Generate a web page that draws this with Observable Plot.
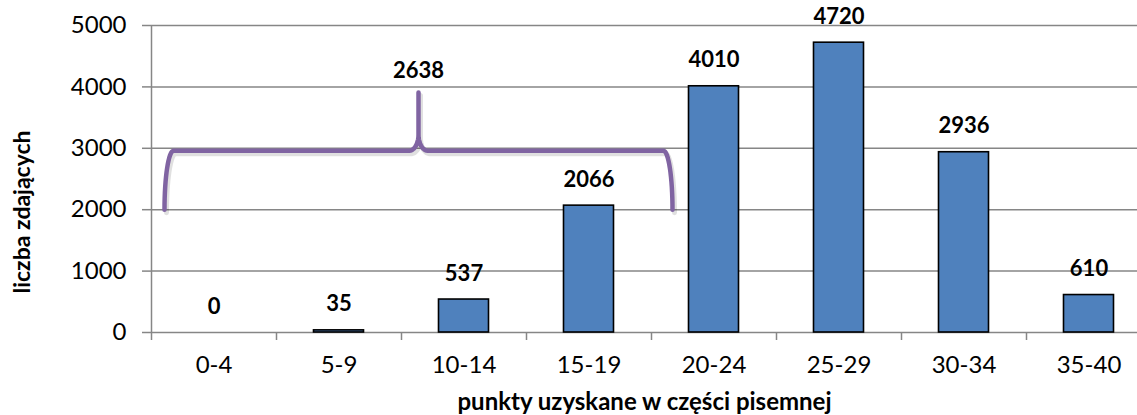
<!DOCTYPE html>
<html><head><meta charset="utf-8">
<script src="https://cdn.jsdelivr.net/npm/d3@7"></script>
<script src="https://cdn.jsdelivr.net/npm/@observablehq/plot@0.6"></script>
<style>
body{margin:0;background:#fff}
#chart svg{font-family:Lato,"Open Sans",sans-serif;display:block}
</style>
</head><body><div id="chart"></div><script>
// ---- data ----
const categories = ["0-4","5-9","10-14","15-19","20-24","25-29","30-34","35-40"];
const counts = [0, 35, 537, 2066, 4010, 4720, 2936, 610];
const yTicks = [0, 1000, 2000, 3000, 4000, 5000];
const xTitle = "punkty uzyskane w części pisemnej";
const yTitle = "liczba zdających";
// brace annotation: groups the first four bins, labelled with their sum
const braceBins = ["0-4","5-9","10-14","15-19"];
const braceLabel = [2638];
const braceBase = 2000, braceLevel = 2960, bracePeak = 3910;

// ---- build ----
const data = categories.map((c, i) => ({cat: c, i, count: counts[i]}));
const boundaries = d3.range(categories.length + 1);
const centers = categories.map((_, i) => i + 0.5);

// brace geometry in (bin index, value) units
const b0 = categories.indexOf(braceBins[0]) + 0.104;
const b1 = categories.indexOf(braceBins[braceBins.length - 1]) + 1.168;
const bm = (b0 + b1) / 2;
const cornerW = 0.072, spikeW = 0.075, spikeH = 260;
const brace = [];
const N = 16;
for (let k = 0; k <= N; k++) { const t = k / N * Math.PI / 2;
  brace.push({x: b0 + cornerW * (1 - Math.cos(t)), y: braceBase + (braceLevel - braceBase) * Math.sin(t)}); }
for (let k = 0; k <= N; k++) { const t = k / N * Math.PI / 2;
  brace.push({x: bm - spikeW + spikeW * Math.sin(t), y: braceLevel + spikeH * (1 - Math.cos(t))}); }
brace.push({x: bm, y: bracePeak});
for (let k = N; k >= 0; k--) { const t = k / N * Math.PI / 2;
  brace.push({x: bm + spikeW - spikeW * Math.sin(t), y: braceLevel + spikeH * (1 - Math.cos(t))}); }
for (let k = N; k >= 0; k--) { const t = k / N * Math.PI / 2;
  brace.push({x: b1 - cornerW * (1 - Math.cos(t)), y: braceBase + (braceLevel - braceBase) * Math.sin(t)}); }

const gray = "#868686";
const chart = Plot.plot({
  width: 1137, height: 415,
  marginLeft: 151, marginRight: 0, marginTop: 25, marginBottom: 83,
  style: {fontFamily: "Lato, 'Open Sans', sans-serif", background: "#fff", overflow: "hidden"},
  x: {type: "linear", domain: [0, categories.length], range: [151, 1151]},
  y: {domain: [0, 5000]},
  marks: [
    Plot.ruleY(yTicks, {stroke: gray, strokeWidth: 1.5}),
    Plot.ruleX([0], {stroke: gray, strokeWidth: 1.5}),
    Plot.axisY({ticks: yTicks, tickSize: 9, tickFormat: () => "", color: gray, strokeWidth: 1.5, label: null}),
    Plot.axisY({ticks: yTicks, tickSize: 0, tickPadding: 25, fontSize: 24, color: "#000", tickFormat: d => String(d), label: null}),
    Plot.axisX({ticks: boundaries, tickSize: 8, tickFormat: () => "", color: gray, strokeWidth: 1.5, label: null}),
    Plot.axisX({ticks: centers, tickSize: 0, tickPadding: 23, fontSize: 24, color: "#000",
      tickFormat: v => categories[Math.floor(v)], label: null}),
    Plot.rectY(data, {x1: d => d.i + 0.3, x2: d => d.i + 0.7, y: "count",
      fill: "#4F81BD", stroke: "#000", strokeWidth: 1.6}),
    Plot.text(data, {x: d => d.i + 0.5, y: "count", text: d => String(d.count), dy: -26,
      fontSize: 22, fontWeight: "bold", fill: "#000"}),
    Plot.line(brace, {x: "x", y: "y", stroke: "#000", strokeOpacity: 0.12, strokeWidth: 5, dx: 2, dy: 3, curve: "linear"}),
    Plot.line(brace, {x: "x", y: "y", stroke: "#8064A2", strokeWidth: 4.5, curve: "linear", strokeLinecap: "round", strokeLinejoin: "round"}),
    Plot.text(braceLabel, {x: () => bm, y: () => bracePeak, text: d => String(d), dy: -21,
      fontSize: 22, fontWeight: "bold", fill: "#000"}),
    Plot.text([xTitle], {frameAnchor: "bottom", textAnchor: "middle", lineAnchor: "middle", text: d => d,
      dy: 70, fontSize: 24, fontWeight: "bold", fill: "#000"}),
    Plot.text([yTitle], {frameAnchor: "left", textAnchor: "middle", lineAnchor: "middle", text: d => d, rotate: -90,
      dx: -129, dy: 33, fontSize: 23, fontWeight: "bold", fill: "#000"})
  ]
});
document.getElementById("chart").append(chart);
</script></body></html>
